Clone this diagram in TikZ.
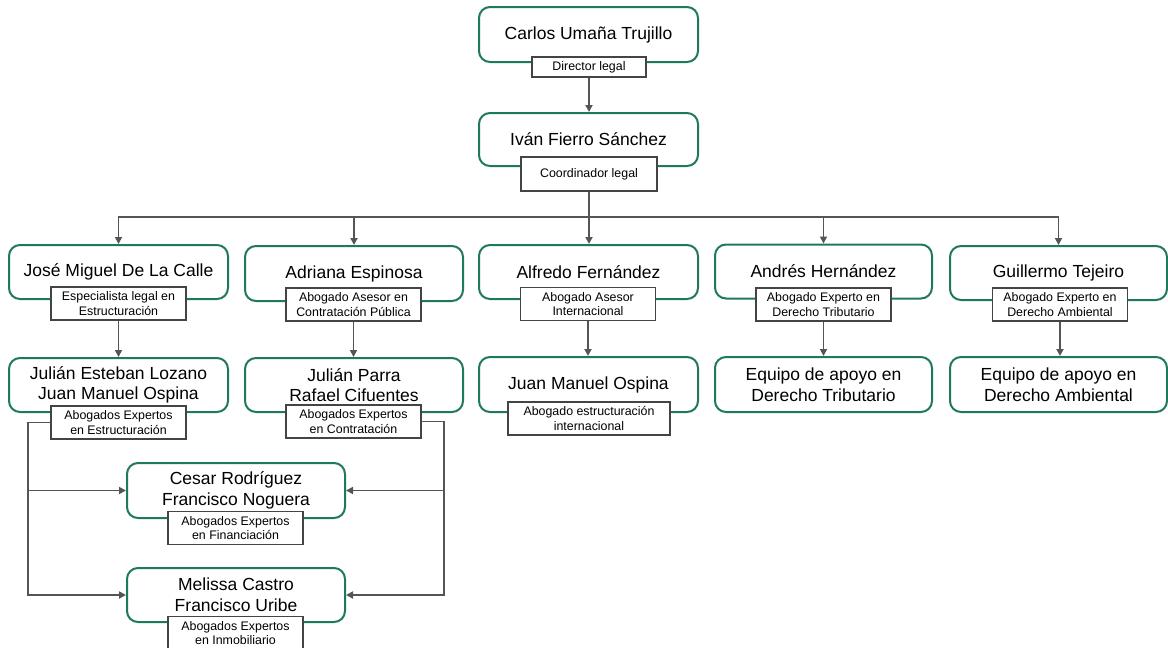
\documentclass[tikz,border=0pt]{standalone}
\usepackage{fontspec}
\setmainfont{Liberation Sans}
\usetikzlibrary{arrows.meta}
\definecolor{boxgreen}{HTML}{1F7A5C}
\definecolor{linegray}{HTML}{555555}
\definecolor{rolegray}{HTML}{444444}
\tikzset{
  person/.style={draw=boxgreen, line width=2pt, rounded corners=11pt, fill=white,
    minimum width=219pt, minimum height=54pt, inner sep=0pt, align=center,
    font=\fontsize{17.5}{20.7}\selectfont},
  role/.style={draw=rolegray, line width=1.5pt, fill=white, minimum width=135pt,
    minimum height=33pt, inner sep=0pt, align=center,
    font=\fontsize{12.4}{14.3}\selectfont},
  arr/.style={draw=linegray, line width=1.8pt,
    -{Triangle[length=7pt,width=7pt]}},
  link/.style={draw=linegray, line width=1.8pt}
}
\begin{document}
\begin{tikzpicture}[x=1pt,y=-1pt]
\useasboundingbox (0,0) rectangle (1168,648);

% people
\node[person, minimum height=55pt] (carlos) at (588.5,34.5) {Carlos Umaña Trujillo};
\node[person, minimum height=53pt] (ivan) at (588.5,139.5) {Iván Fierro Sánchez};

\node[person] (jose) at (118.5,272) {José Miguel De La Calle};
\node[person, minimum width=218pt, minimum height=55pt] (adriana) at (354,273.5) {Adriana Espinosa};
\node[person] (alfredo) at (588.5,272) {Alfredo Fernández};
\node[person, minimum width=217pt] (andres) at (823.5,271.5) {Andrés Hernández};
\node[person, minimum width=217pt] (guillermo) at (1058.5,273) {Guillermo Tejeiro};

\node[person] (julianE) at (118.5,385) {Julián Esteban Lozano\\Juan Manuel Ospina};
\node[person, minimum width=218pt] (julianP) at (354,385) {Julián Parra\\Rafael Cifuentes};
\node[person, minimum height=55pt] (juanM) at (588.5,384.5) {Juan Manuel Ospina};
\node[person, minimum width=217pt, minimum height=55pt] (equipoT) at (823.5,384.5) {Equipo de apoyo en\\Derecho Tributario};
\node[person, minimum width=217pt, minimum height=55pt] (equipoA) at (1058.5,384.5) {Equipo de apoyo en\\Derecho Ambiental};

\node[person, minimum width=218pt, minimum height=55pt] (cesar) at (236,490.5) {Cesar Rodríguez\\Francisco Noguera};
\node[person, minimum width=218pt] (melissa) at (236,595) {Melissa Castro\\Francisco Uribe};

% roles
\node[role, minimum width=114pt, minimum height=20pt] (carlosR) at (589,67) {Director legal};
\node[role, minimum width=136pt, minimum height=34pt] (ivanR) at (589,174) {Coordinador legal};

\node[role] (joseR) at (118.5,303.5) {Especialista legal en\\Estructuración};
\node[role] (adrianaR) at (353.5,304.5) {Abogado Asesor en\\Contratación Pública};
\node[role] (alfredoR) at (588,304) {Abogado Asesor\\Internacional};
\node[role] (andresR) at (823.5,304.5) {Abogado Experto en\\Derecho Tributario};
\node[role] (guillermoR) at (1060,304.5) {Abogado Experto en\\Derecho Ambiental};

\node[role] (julianER) at (118.5,422.5) {Abogados Expertos\\en Estructuración};
\node[role] (julianPR) at (353.5,421.5) {Abogados Expertos\\en Contratación};
\node[role, minimum width=162pt] (juanMR) at (589,418.5) {Abogado estructuración\\internacional};

\node[role] (cesarR) at (235.5,528) {Abogados Expertos\\en Financiación};
\node[role] (melissaR) at (235.5,633) {Abogados Expertos\\en Inmobiliario};

% helper coordinates for the bus lines
\coordinate (bus) at (589,217);
\coordinate (lbus) at (28,0);
\coordinate (rbus) at (444,0);

% connectors
\draw[arr] (carlosR.south) -- (carlosR.south |- ivan.north);

\draw[arr] (ivanR.south) -- (ivanR.south |- bus) -| (jose.north);
\draw[arr] (ivanR.south) -- (ivanR.south |- bus) -| (adriana.north);
\draw[arr] (ivanR.south) -- (ivanR.south |- alfredo.north);
\draw[arr] (ivanR.south) -- (ivanR.south |- bus) -| (andres.north);
\draw[arr] (ivanR.south) -- (ivanR.south |- bus) -| (guillermo.north);

\draw[arr] (joseR.south) -- (joseR.south |- julianE.north);
\draw[arr] (adrianaR.south) -- (adrianaR.south |- julianP.north);
\draw[arr] (alfredoR.south) -- (alfredoR.south |- juanM.north);
\draw[arr] (andresR.south) -- (andresR.south |- equipoT.north);
\draw[arr] (guillermoR.south) -- (guillermoR.south |- equipoA.north);

\draw[arr] (julianER.west) -- (julianER.west -| lbus) |- (cesar.west);
\draw[arr] (julianER.west) -- (julianER.west -| lbus) |- (melissa.west);
\draw[arr] (julianPR.east) -- (julianPR.east -| rbus) |- (cesar.east);
\draw[arr] (julianPR.east) -- (julianPR.east -| rbus) |- (melissa.east);
\end{tikzpicture}
\end{document}
